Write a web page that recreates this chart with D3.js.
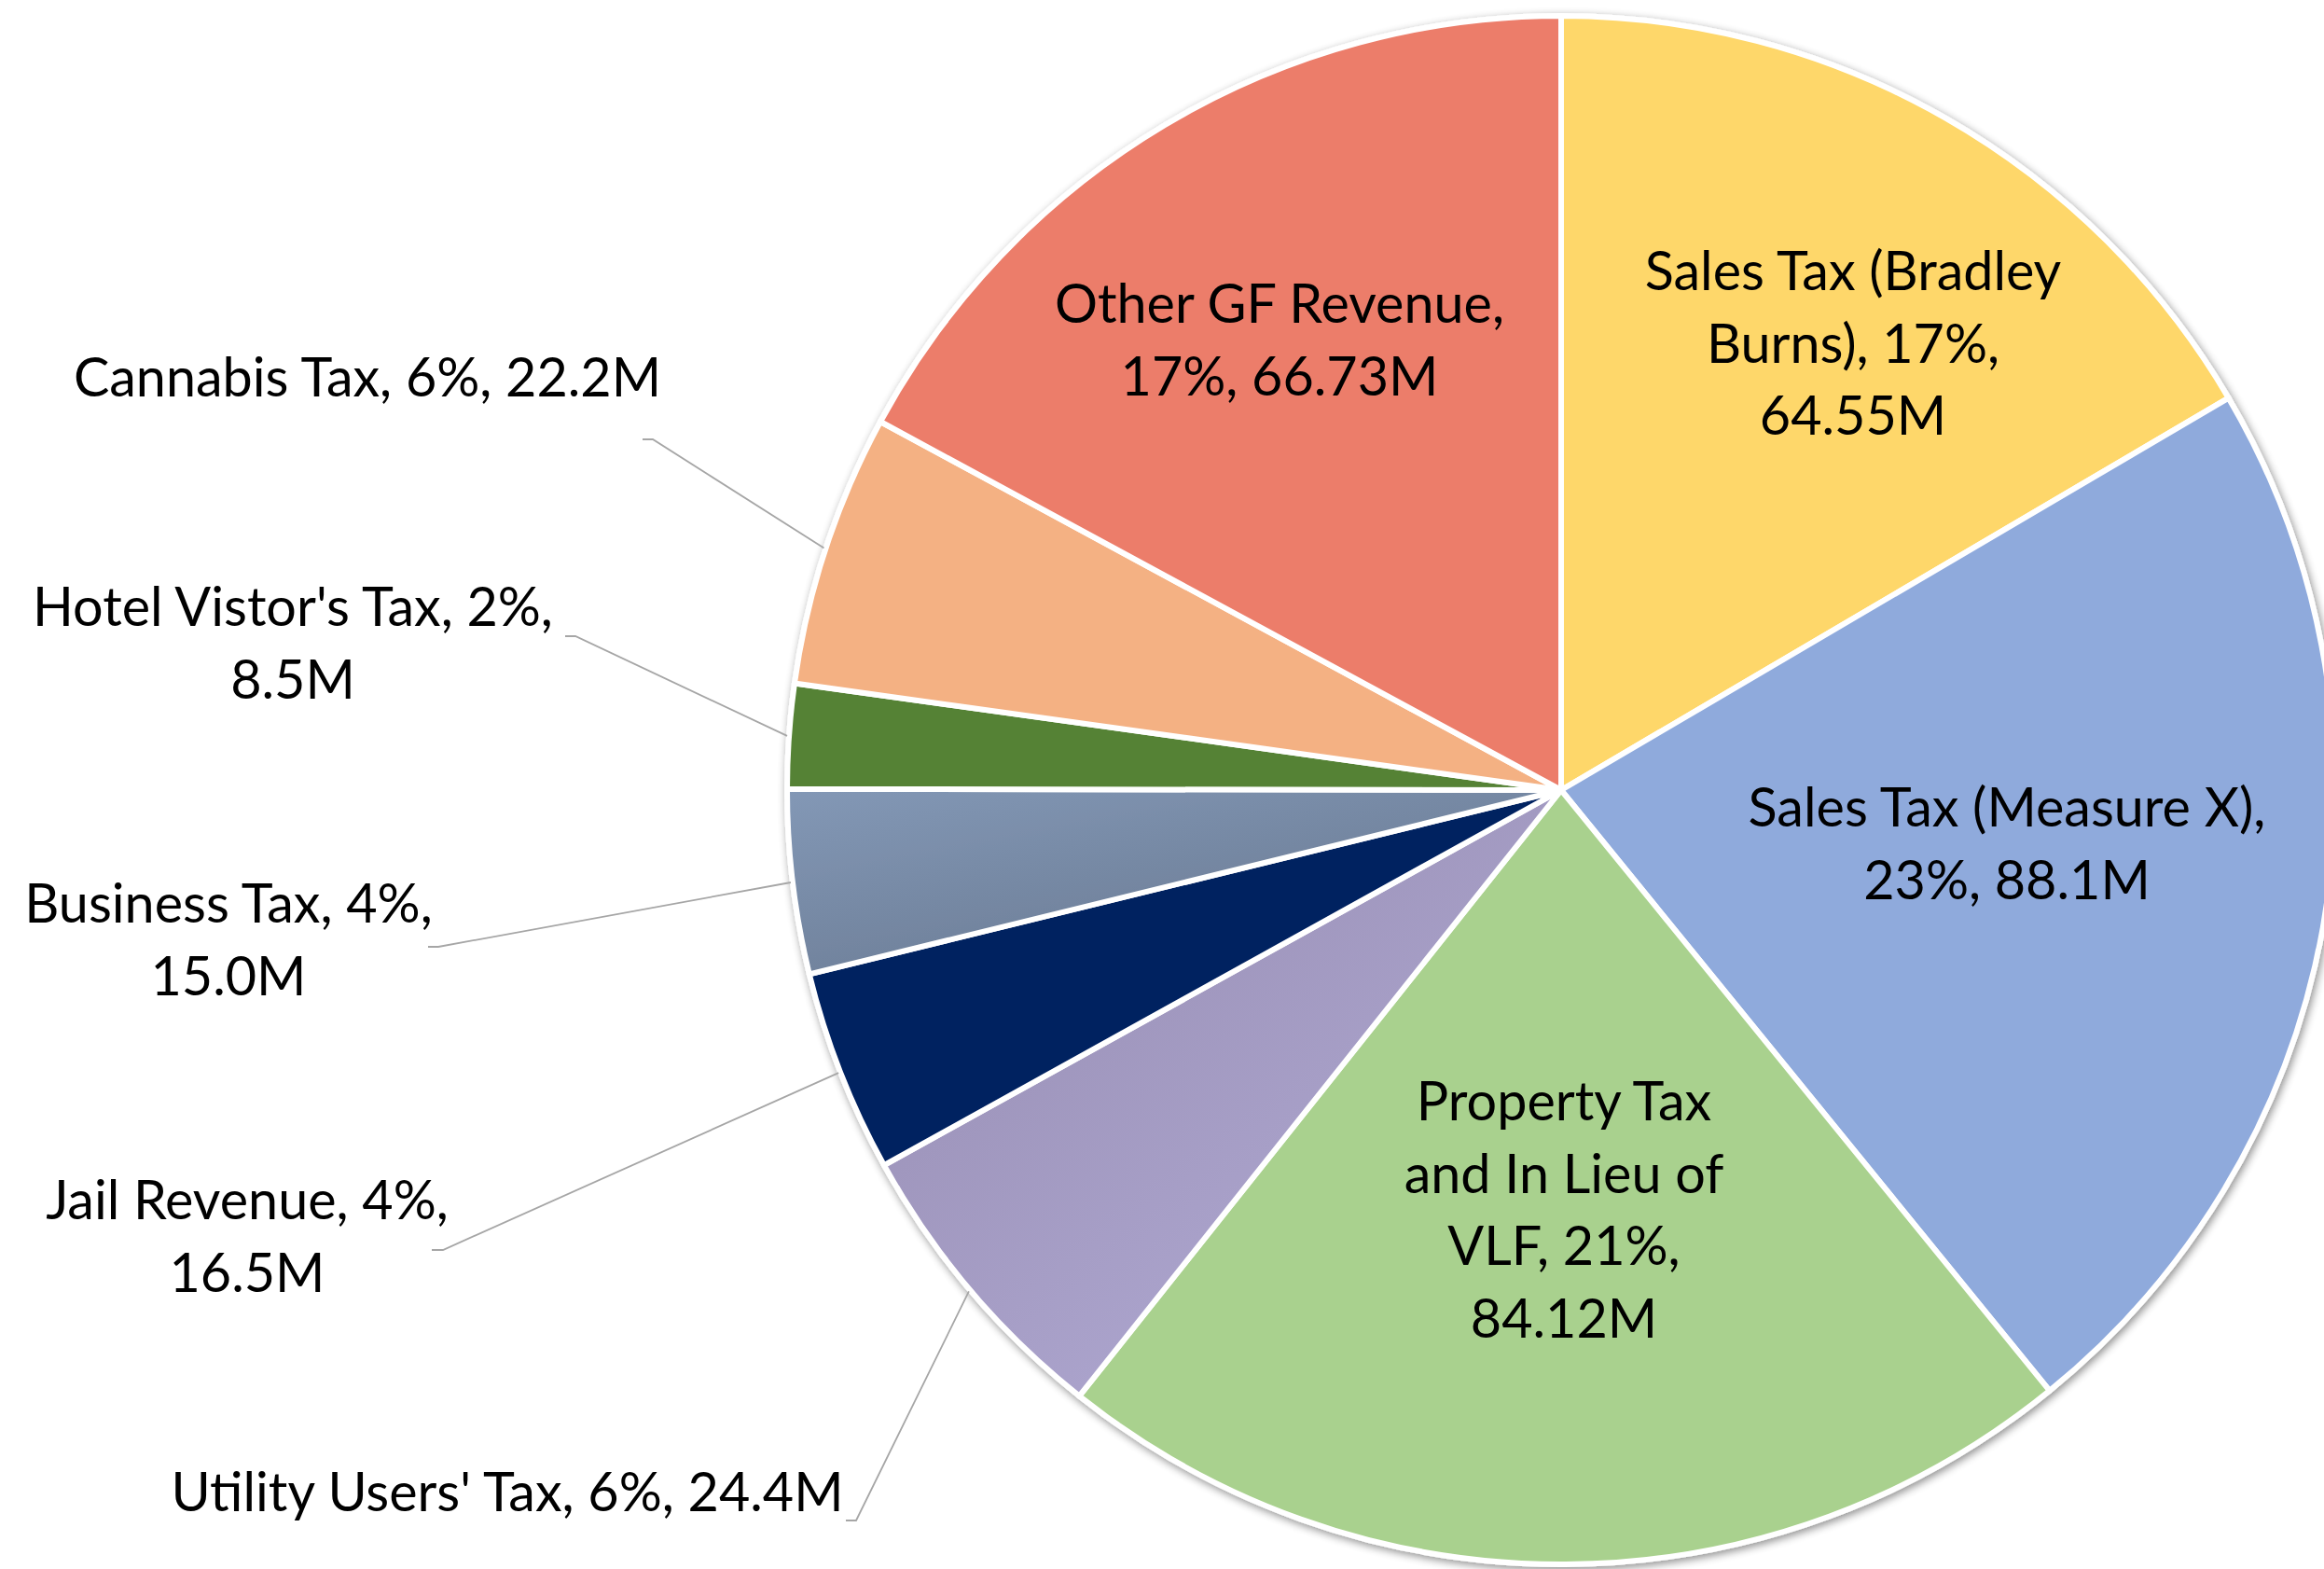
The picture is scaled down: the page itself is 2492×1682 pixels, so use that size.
<!DOCTYPE html>
<html>
<head>
<meta charset="utf-8">
<script src="https://cdn.jsdelivr.net/npm/d3@7"></script>
<style>
  html, body { margin: 0; padding: 0; background: #ffffff; }
  svg { display: block; }
  text { font-family: Lato, "Open Sans", sans-serif; fill: #000000; }
</style>
</head>
<body>
<script>
// ---------- data ----------
const categories = [
  "Sales Tax (Bradley Burns)",
  "Sales Tax (Measure X)",
  "Property Tax and In Lieu of VLF",
  "Utility Users' Tax",
  "Jail Revenue",
  "Business Tax",
  "Hotel Vistor's Tax",
  "Cannabis Tax",
  "Other GF Revenue"
];
const values = [64.55, 88.1, 84.12, 24.4, 16.5, 15.0, 8.5, 22.2, 66.73];
const percentLabels = ["17%", "23%", "21%", "6%", "4%", "4%", "2%", "6%", "17%"];
const valueLabels = ["64.55M", "88.1M", "84.12M", "24.4M", "16.5M", "15.0M", "8.5M", "22.2M", "66.73M"];

// ---------- styles / layout ----------
const W = 2492, H = 1682;
const cx = 1674, cy = 847, R = 830;
const fontSize = 57.5, lineH = 77.5;

const fills = [
  "#FED76A", "#8FAADC", "#A9D18E",
  {id: "gUtil", from: "#958BB0", to: "#B1AAD4"},
  "#002060",
  {id: "gBus", from: "#8398B6", to: "#67778F"},
  "#548235", "#F4B183", "#EC7D6B"
];

// label layout: words per line, anchor x, first baseline y, optional leader stub start
const labelLayout = [
  {lines: [3, 2, 1], x: 1987, y: 311},
  {lines: [4, 2], x: 2152, y: 886},
  {lines: [2, 4, 2, 1], x: 1677, y: 1201},
  {lines: [6], x: 544, y: 1620, stub: [[907, 1630], [918, 1630]]},
  {lines: [3, 1], x: 265, y: 1307, stub: [[463, 1340], [475, 1340]]},
  {lines: [3, 1], x: 245, y: 989, stub: [[459, 1015], [470, 1015]]},
  {lines: [4, 1], x: 314, y: 671, stub: [[606, 682], [617, 682]]},
  {lines: [4], x: 394, y: 425, stub: [[689, 471], [700, 471]]},
  {lines: [3, 2], x: 1372, y: 346}
];

// ---------- draw ----------
const svg = d3.select("body").append("svg")
  .attr("width", W).attr("height", H)
  .attr("viewBox", `0 0 ${W} ${H}`);

const defs = svg.append("defs");
const filt = defs.append("filter").attr("id", "shadow")
  .attr("x", "-10%").attr("y", "-10%").attr("width", "120%").attr("height", "120%");
filt.append("feGaussianBlur").attr("in", "SourceAlpha").attr("stdDeviation", 5).attr("result", "blur");
filt.append("feOffset").attr("in", "blur").attr("dx", 2).attr("dy", 3).attr("result", "off");
filt.append("feComponentTransfer").attr("in", "off").attr("result", "sh")
  .append("feFuncA").attr("type", "linear").attr("slope", 0.45);
const merge = filt.append("feMerge");
merge.append("feMergeNode").attr("in", "sh");
merge.append("feMergeNode").attr("in", "SourceGraphic");

fills.forEach(f => {
  if (typeof f === "object") {
    const g = defs.append("linearGradient").attr("id", f.id)
      .attr("x1", 0).attr("y1", 0).attr("x2", 0.8).attr("y2", 1);
    g.append("stop").attr("offset", "0%").attr("stop-color", f.from);
    g.append("stop").attr("offset", "100%").attr("stop-color", f.to);
  }
});
const fillOf = i => typeof fills[i] === "object" ? `url(#${fills[i].id})` : fills[i];

const data = categories.map((c, i) => ({name: c, value: values[i], i}));
const pie = d3.pie().sort(null).value(d => d.value).startAngle(0).endAngle(2 * Math.PI);
const arcs = pie(data);
const arc = d3.arc().innerRadius(0).outerRadius(R);
const edgeArc = d3.arc().innerRadius(R + 2).outerRadius(R + 2);

const pieG = svg.append("g").attr("transform", `translate(${cx},${cy})`)
  .attr("filter", "url(#shadow)");
pieG.selectAll("path").data(arcs).join("path")
  .attr("d", arc)
  .attr("fill", d => fillOf(d.data.i))
  .attr("stroke", "#ffffff")
  .attr("stroke-width", 6)
  .attr("stroke-linejoin", "round");

// leader lines
const leaderG = svg.append("g");
arcs.forEach(a => {
  const L = labelLayout[a.data.i];
  if (!L.stub) return;
  const c = edgeArc.centroid(a);
  const pts = [L.stub[0], L.stub[1], [cx + c[0], cy + c[1]]];
  leaderG.append("path")
    .attr("d", d3.line()(pts))
    .attr("fill", "none")
    .attr("stroke", "#A6A6A6")
    .attr("stroke-width", 1.8);
});

// labels
const labelG = svg.append("g");
data.forEach((d, i) => {
  const L = labelLayout[i];
  const words = `${d.name}, ${percentLabels[i]}, ${valueLabels[i]}`.split(" ");
  const lines = [];
  let k = 0;
  L.lines.forEach(n => { lines.push(words.slice(k, k + n).join(" ")); k += n; });
  const t = labelG.append("text")
    .attr("text-anchor", "middle")
    .attr("font-size", fontSize);
  lines.forEach((ln, j) => {
    t.append("tspan").attr("x", L.x).attr("y", L.y + j * lineH).text(ln);
  });
});
</script>
</body>
</html>
